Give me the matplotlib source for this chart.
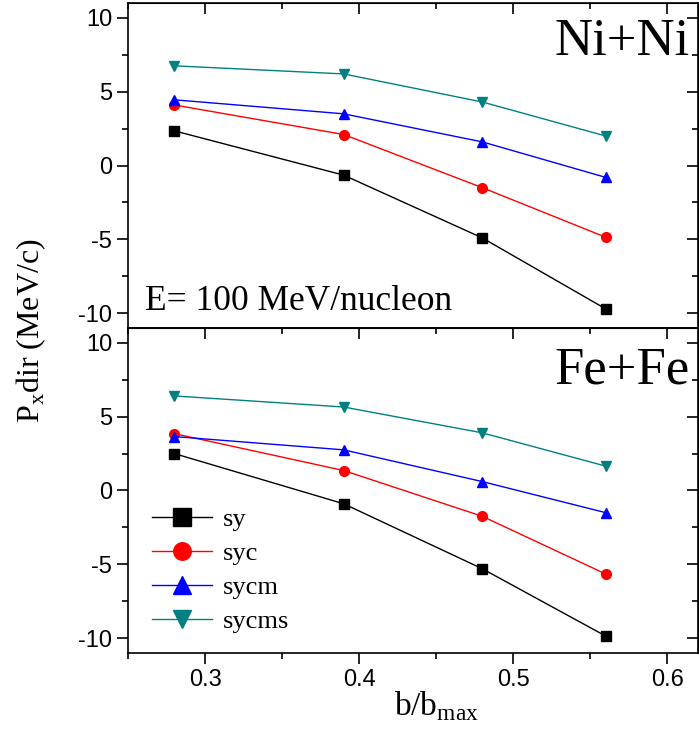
import matplotlib
matplotlib.use('Agg')
import matplotlib.pyplot as plt
from matplotlib.ticker import MultipleLocator

plt.rcParams['axes.unicode_minus'] = False

# impact parameter b/bmax
b_red = [0.28, 0.39, 0.48, 0.56]

series_names = ['sy', 'syc', 'sycm', 'sycms']
series_colors = ['black', 'red', 'blue', '#008080']
series_markers = ['s', 'o', '^', 'v']

# Ni+Ni
ni_sy = [2.35, -0.65, -4.9, -9.7]
ni_syc = [4.1, 2.1, -1.5, -4.85]
ni_sycm = [4.45, 3.5, 1.6, -0.8]
ni_sycms = [6.75, 6.2, 4.3, 2.0]

# Fe+Fe
fe_sy = [2.5, -0.9, -5.3, -9.85]
fe_syc = [3.85, 1.35, -1.75, -5.65]
fe_sycm = [3.65, 2.75, 0.6, -1.5]
fe_sycms = [6.4, 5.65, 3.9, 1.65]

serif = ['Liberation Serif', 'DejaVu Serif']
sans = ['Liberation Sans', 'DejaVu Sans']


def style_axis(ax, bottom_labels):
    ax.set_xlim(0.25, 0.62)
    ax.set_ylim(-11, 11)
    ax.xaxis.set_major_locator(MultipleLocator(0.1))
    ax.xaxis.set_minor_locator(MultipleLocator(0.05))
    ax.yaxis.set_major_locator(MultipleLocator(5))
    ax.yaxis.set_minor_locator(MultipleLocator(2.5))
    ax.tick_params(which='major', length=8, width=1.2, direction='out',
                   labelsize=17, top=False, right=False,
                   labelbottom=bottom_labels)
    ax.tick_params(which='minor', length=4, width=1.2, direction='out',
                   top=False, right=False)
    for lab in ax.get_xticklabels() + ax.get_yticklabels():
        lab.set_family(sans)
    for sp in ax.spines.values():
        sp.set_linewidth(1.2)
    # inward ticks on top and right
    sx = ax.secondary_xaxis('top')
    sx.xaxis.set_major_locator(MultipleLocator(0.1))
    sx.xaxis.set_minor_locator(MultipleLocator(0.05))
    sx.tick_params(which='major', direction='in', length=8, width=1.2, labeltop=False)
    sx.tick_params(which='minor', direction='in', length=4, width=1.2)
    sy = ax.secondary_yaxis('right')
    sy.yaxis.set_major_locator(MultipleLocator(5))
    sy.yaxis.set_minor_locator(MultipleLocator(2.5))
    sy.tick_params(which='major', direction='in', length=8, width=1.2, labelright=False)
    sy.tick_params(which='minor', direction='in', length=4, width=1.2)


fig = plt.figure(figsize=(6.99, 7.36), dpi=100)
ax1 = fig.add_axes([0.1831, 0.5543, 0.8155, 0.4416])
ax2 = fig.add_axes([0.1831, 0.1128, 0.8155, 0.4416])

for ax, data in [(ax1, [ni_sy, ni_syc, ni_sycm, ni_sycms]),
                 (ax2, [fe_sy, fe_syc, fe_sycm, fe_sycms])]:
    for name, col, mk, vals in zip(series_names, series_colors, series_markers, data):
        ax.plot(b_red, vals, color=col, marker=mk, markersize=7, lw=1.0, label=name)

style_axis(ax1, False)
style_axis(ax2, True)

ax1.text(0.985, 0.88, 'Ni+Ni', transform=ax1.transAxes, ha='right', va='center',
         fontsize=38, family=serif)
ax1.text(0.03, 0.082, 'E= 100 MeV/nucleon', transform=ax1.transAxes, ha='left',
         va='center', fontsize=25.5, family=serif)
ax2.text(0.985, 0.87, 'Fe+Fe', transform=ax2.transAxes, ha='right', va='center',
         fontsize=38, family=serif)

leg = ax2.legend(loc='upper left', bbox_to_anchor=(0.0, 0.52), frameon=False,
                 prop={'family': serif, 'size': 19}, markerscale=1.8,
                 handlelength=2.3, labelspacing=0.4, handletextpad=0.4)

fig.text(0.045, 0.55, r'P$_{\mathregular{x}}$dir (MeV/c)', rotation=90, ha='center', va='center',
         fontsize=23, family=serif)
fig.text(0.625, 0.041, r'b/b$_{\mathregular{max}}$', ha='center', va='center',
         fontsize=24, family=serif)

fig.savefig('out.png', dpi=100)
